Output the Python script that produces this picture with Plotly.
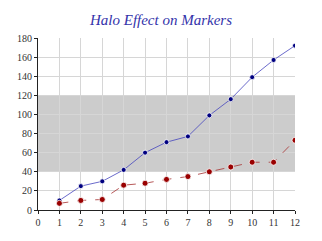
import plotly.graph_objects as go

x_vals = [1, 2, 3, 4, 5, 6, 7, 8, 9, 10, 11, 12]
series_blue = [10, 25, 30, 42, 60, 71, 77, 99, 116, 139, 157, 172]
series_red = [7, 10, 11, 26, 28, 32, 35, 40, 45, 50, 50, 73]
band_low, band_high = 40, 120
y_ticks = [0, 20, 40, 60, 80, 100, 120, 140, 160, 180]
x_ticks = list(range(0, 13))

fig = go.Figure()
fig.add_trace(go.Scatter(
    x=x_vals, y=series_blue, mode="lines+markers",
    line=dict(color="rgba(70,70,190,0.8)", width=1),
    marker=dict(color="#000080", size=5, line=dict(color="rgba(255,255,255,0.8)", width=1)),
    showlegend=False))
fig.add_trace(go.Scatter(
    x=x_vals, y=series_red, mode="lines+markers",
    line=dict(color="rgba(170,60,60,0.85)", width=1, dash="dash"),
    marker=dict(color="#990000", size=6, line=dict(color="rgba(255,255,255,0.8)", width=1)),
    showlegend=False))

fig.add_shape(type="rect", xref="paper", x0=0, x1=1, yref="y", y0=band_low, y1=band_high,
              fillcolor="#cccccc", line=dict(width=0), layer="below")

fig.update_layout(
    width=322, height=241,
    margin=dict(l=38, r=27, t=38, b=31),
    paper_bgcolor="white", plot_bgcolor="white",
    title=dict(text="<i>Halo Effect on Markers</i>", x=0.5, xanchor="center", y=0.92, yanchor="middle",
               font=dict(family="Liberation Serif, serif", size=15, color="#3333aa")),
    font=dict(family="Liberation Serif, serif", size=10, color="#333333"),
    xaxis=dict(range=[0, 12], tickvals=x_ticks, showgrid=True, gridcolor="#d6d6d6", gridwidth=1,
               showline=True, linecolor="#222222", linewidth=1, ticks="outside", ticklen=3,
               tickcolor="#222222", zeroline=False, mirror=False),
    yaxis=dict(range=[0, 180], tickvals=y_ticks, showgrid=True, gridcolor="#d6d6d6", gridwidth=1,
               showline=True, linecolor="#222222", linewidth=1, ticks="outside", ticklen=3,
               tickcolor="#222222", zeroline=False),
)

fig.write_html("out.html")
